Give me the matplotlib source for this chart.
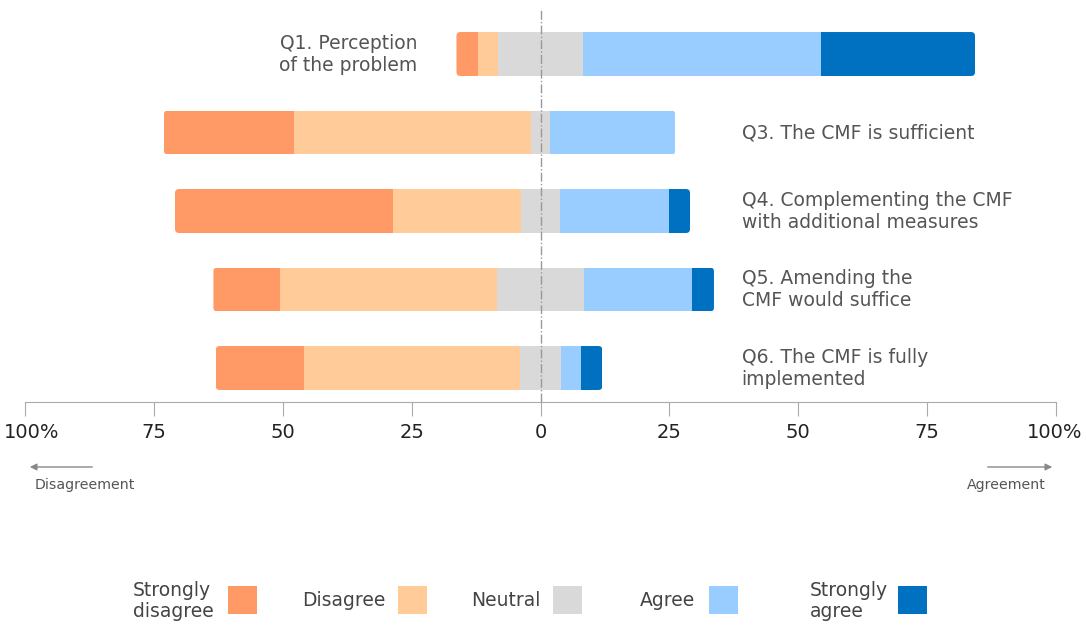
import numpy as np
import matplotlib.pyplot as plt
import matplotlib.transforms as mtransforms
from matplotlib.patches import FancyBboxPatch, Rectangle

# survey shares (%), one entry per question, top to bottom
questions = ['Q1. Perception\nof the problem',
             'Q3. The CMF is sufficient',
             'Q4. Complementing the CMF\nwith additional measures',
             'Q5. Amending the\nCMF would suffice',
             'Q6. The CMF is fully\nimplemented']
strongly_disagree = [4.1, 25.2, 42.3, 13.0, 17.2]
disagree = [3.9, 46.0, 24.8, 42.1, 41.9]
neutral = [16.6, 3.7, 7.6, 16.7, 7.8]
agree = [46.2, 24.3, 21.1, 21.1, 4.0]
strongly_agree = [29.8, 0.0, 4.1, 4.2, 4.1]

categories = ['Strongly\ndisagree', 'Disagree', 'Neutral', 'Agree', 'Strongly\nagree']
colors = ['#FF9966', '#FFCC99', '#D9D9D9', '#99CCFF', '#0070C0']
tick_vals = [-100, -75, -50, -25, 0, 25, 50, 75, 100]
tick_labels = ['100%', '75', '50', '25', '0', '25', '50', '75', '100%']

W, H = 1086, 625
fig = plt.figure(figsize=(W / 100, H / 100), dpi=100)
ax = fig.add_axes([25 / W, 1 - 402 / H, (1056 - 25) / W, 402 / H])

ax.set_xlim(-100, 100)
ax.set_ylim(4.433, -0.688)

px_x = (1056 - 25) / 200.0
px_y = 402 / 5.121
bar_h = 0.56
r = 4.0

data = np.array([strongly_disagree, disagree, neutral, agree, strongly_agree]).T
for i, row in enumerate(data):
    start = -(row[0] + row[1] + row[2] / 2)
    total = row.sum()
    clip = FancyBboxPatch((start, i - bar_h / 2), total, bar_h,
                          boxstyle='round,pad=0,rounding_size=%f' % (r / px_x),
                          mutation_aspect=(r / px_y) / (r / px_x),
                          transform=ax.transData, facecolor='none', edgecolor='none')
    ax.add_patch(clip)
    left = start
    for j, v in enumerate(row):
        if v > 0:
            b = ax.barh(i, v, left=left, height=bar_h, color=colors[j], linewidth=0)
            b[0].set_clip_path(clip)
        left += v

# question labels
label_col = '#555555'
ax.text(-23.9, 0, questions[0], ha='right', va='center', fontsize=13.5, color=label_col)
for i in range(1, len(questions)):
    ax.text(39.0, i, questions[i], ha='left', va='center', fontsize=13.5, color=label_col)

ax.axvline(0, ymin=0, ymax=1 - 8 / 402, color='#999999', lw=1, ls='-.', zorder=5)

for s in ['top', 'left', 'right']:
    ax.spines[s].set_visible(False)
ax.spines['bottom'].set_color('#aaaaaa')
ax.set_yticks([])
ax.set_xticks(tick_vals)
ax.set_xticklabels(tick_labels, fontsize=14, color='#222222')
ax.tick_params(axis='x', length=10, color='#aaaaaa', pad=5)

# keep the outer "100%" labels inside the figure, as in the original
tl = ax.get_xticklabels()
tl[0].set_transform(tl[0].get_transform() + mtransforms.ScaledTranslation(7 / 100, 0, fig.dpi_scale_trans))
tl[-1].set_transform(tl[-1].get_transform() + mtransforms.ScaledTranslation(-1 / 100, 0, fig.dpi_scale_trans))


def fx(px):
    return px / W


def fy(py):
    return 1 - py / H


# direction arrows
ax.annotate('', xy=(fx(27), fy(467)), xytext=(fx(95), fy(467)), xycoords='figure fraction',
            textcoords='figure fraction',
            arrowprops=dict(arrowstyle='-|>', color='#888888', lw=1, mutation_scale=10))
ax.annotate('', xy=(fx(1055), fy(467)), xytext=(fx(985), fy(467)), xycoords='figure fraction',
            textcoords='figure fraction',
            arrowprops=dict(arrowstyle='-|>', color='#888888', lw=1, mutation_scale=10))
fig.text(fx(35), fy(485), 'Disagreement', ha='left', va='center', fontsize=10.2, color='#555555')
fig.text(fx(1046), fy(485), 'Agreement', ha='right', va='center', fontsize=10.2, color='#555555')

# legend
text_x = [133, 302, 471, 640, 810]
box_x = [228, 398, 553, 709, 898]
for k in range(len(categories)):
    fig.text(fx(text_x[k]), fy(601), categories[k], ha='left', va='center',
             fontsize=13.5, color='#444444', linespacing=1.15)
    fig.add_artist(Rectangle((fx(box_x[k]), fy(614)), 29 / W, 28 / H,
                             transform=fig.transFigure, facecolor=colors[k], edgecolor='none'))

fig.savefig('out.png', dpi=100)
